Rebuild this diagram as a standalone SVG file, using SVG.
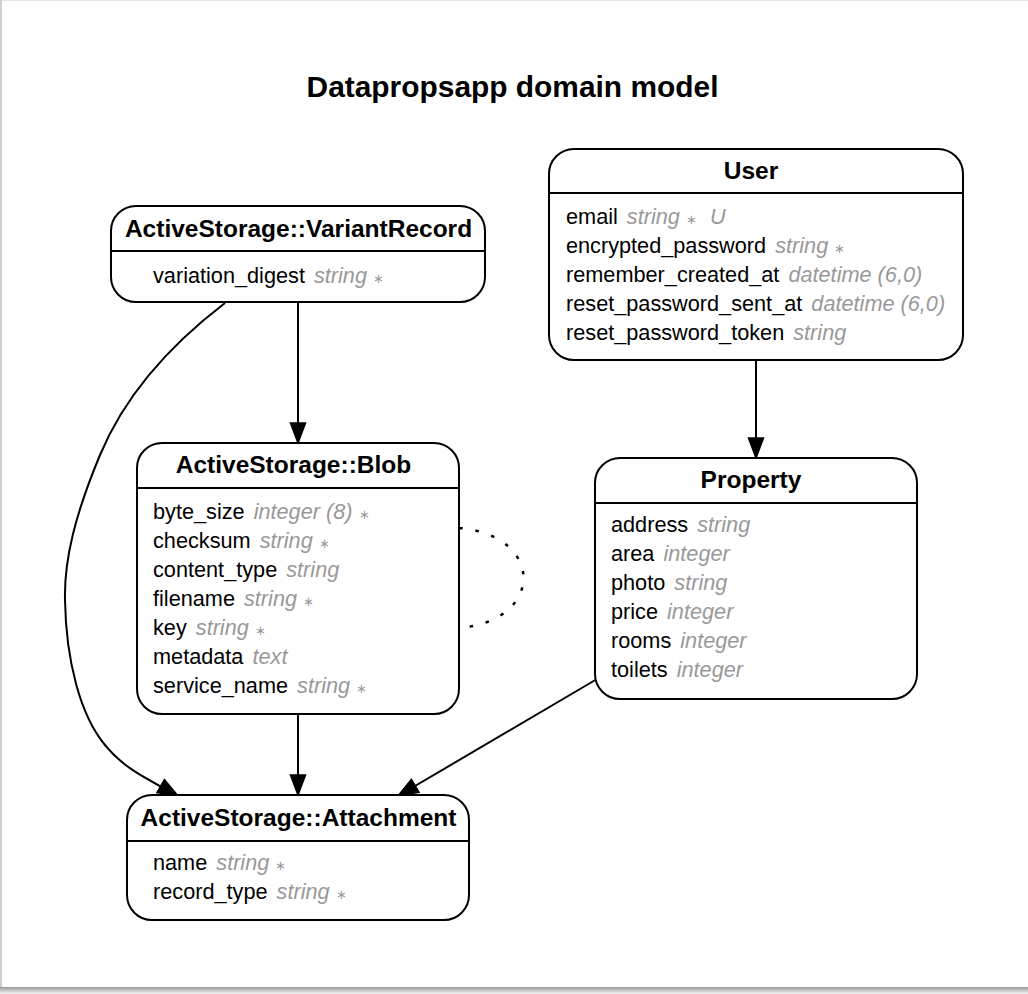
<svg xmlns="http://www.w3.org/2000/svg" width="1028" height="994" viewBox="0 0 1028 994">
<style>
.box{fill:#fff;stroke:#000;stroke-width:2}
.div{stroke:#000;stroke-width:2}
.hd{font-family:"Liberation Sans",Arial,sans-serif;font-weight:bold;font-size:24.5px;text-anchor:middle;fill:#000}
.at{font-family:"Liberation Sans",Arial,sans-serif;font-size:21.7px;fill:#000}
.t{font-style:italic;fill:#999}
.s{fill:#999;font-size:13px}
.e{fill:none;stroke:#000;stroke-width:2}
</style>
<defs>
<marker id="ah" markerUnits="userSpaceOnUse" markerWidth="24" markerHeight="20" refX="21" refY="9" orient="auto" viewBox="0 0 24 20">
<path d="M1,1.5 L21,9 L1,16.5 z" fill="#000" stroke="#000" stroke-width="1.5"/>
</marker>
<linearGradient id="sh" x1="0" y1="0" x2="0" y2="1">
<stop offset="0" stop-color="#9a9a9a"/>
<stop offset="1" stop-color="#f4f4f4"/>
</linearGradient>
</defs>
<rect x="0" y="0" width="1028" height="994" fill="#fff"/>
<g id="frame">
<rect x="0" y="987" width="1028" height="7" fill="url(#sh)"/>
<line x1="0" y1="0.5" x2="1028" y2="0.5" stroke="#e4e4e4" stroke-width="1"/>
<line x1="1" y1="0" x2="1" y2="987" stroke="#cfcfcf" stroke-width="2"/>
</g>
<text x="512.5" y="97" font-family="Liberation Sans,Arial,sans-serif" font-weight="bold" font-size="29.9" text-anchor="middle">Datapropsapp domain model</text>

<g id="edges">
<path class="e" d="M225,303 C170,345 125,395 100,455 C75,515 64,560 65,600 C66,660 80,715 105,745 C125,770 150,780 178,796" marker-end="url(#ah)"/>
<path class="e" d="M298,303 L298,443" marker-end="url(#ah)"/>
<path class="e" d="M298,714 L298,795" marker-end="url(#ah)"/>
<path class="e" d="M756,360 L756,458" marker-end="url(#ah)"/>
<path class="e" d="M597,679 L398,796" marker-end="url(#ah)"/>
<path d="M459,528 C545,535 545,621 459,628" fill="none" stroke="#000" stroke-width="2.5" stroke-dasharray="3.5 13"/>
</g>

<g id="variantrecord">
<rect class="box" x="111" y="206" width="374" height="96" rx="25"/>
<line class="div" x1="111" y1="251" x2="485" y2="251"/>
<text class="hd" x="298.5" y="237">ActiveStorage::VariantRecord</text>
<text class="at" x="153" y="283">variation_digest <tspan class="t" dx="3">string</tspan> <tspan class="s">∗</tspan></text>
</g>

<g id="user">
<rect class="box" x="549" y="149" width="414" height="211" rx="25"/>
<line class="div" x1="549" y1="193" x2="963" y2="193"/>
<text class="hd" x="751" y="179">User</text>
<text class="at" x="566" y="224">email <tspan class="t" dx="3">string</tspan> <tspan class="s">∗</tspan> <tspan class="t" dx="7">U</tspan></text>
<text class="at" x="566" y="253">encrypted_password <tspan class="t" dx="3">string</tspan> <tspan class="s">∗</tspan></text>
<text class="at" x="566" y="282">remember_created_at <tspan class="t" dx="3">datetime (6,0)</tspan></text>
<text class="at" x="566" y="311">reset_password_sent_at <tspan class="t" dx="3">datetime (6,0)</tspan></text>
<text class="at" x="566" y="340">reset_password_token <tspan class="t" dx="3">string</tspan></text>
</g>

<g id="blob">
<rect class="box" x="137" y="443" width="322" height="271" rx="25"/>
<line class="div" x1="137" y1="488" x2="459" y2="488"/>
<text class="hd" x="293.5" y="473">ActiveStorage::Blob</text>
<text class="at" x="153" y="519">byte_size <tspan class="t" dx="3">integer (8)</tspan> <tspan class="s">∗</tspan></text>
<text class="at" x="153" y="548">checksum <tspan class="t" dx="3">string</tspan> <tspan class="s">∗</tspan></text>
<text class="at" x="153" y="577">content_type <tspan class="t" dx="3">string</tspan></text>
<text class="at" x="153" y="606">filename <tspan class="t" dx="3">string</tspan> <tspan class="s">∗</tspan></text>
<text class="at" x="153" y="635">key <tspan class="t" dx="3">string</tspan> <tspan class="s">∗</tspan></text>
<text class="at" x="153" y="664">metadata <tspan class="t" dx="3">text</tspan></text>
<text class="at" x="153" y="693">service_name <tspan class="t" dx="3">string</tspan> <tspan class="s">∗</tspan></text>
</g>

<g id="property">
<rect class="box" x="595" y="458" width="322" height="241" rx="25"/>
<line class="div" x1="595" y1="503" x2="917" y2="503"/>
<text class="hd" x="751" y="488">Property</text>
<text class="at" x="611" y="532">address <tspan class="t" dx="3">string</tspan></text>
<text class="at" x="611" y="561">area <tspan class="t" dx="3">integer</tspan></text>
<text class="at" x="611" y="590">photo <tspan class="t" dx="3">string</tspan></text>
<text class="at" x="611" y="619">price <tspan class="t" dx="3">integer</tspan></text>
<text class="at" x="611" y="648">rooms <tspan class="t" dx="3">integer</tspan></text>
<text class="at" x="611" y="677">toilets <tspan class="t" dx="3">integer</tspan></text>
</g>

<g id="attachment">
<rect class="box" x="127" y="795" width="342" height="125" rx="25"/>
<line class="div" x1="127" y1="841" x2="469" y2="841"/>
<text class="hd" x="298.5" y="826">ActiveStorage::Attachment</text>
<text class="at" x="153" y="870">name <tspan class="t" dx="3">string</tspan> <tspan class="s">∗</tspan></text>
<text class="at" x="153" y="899">record_type <tspan class="t" dx="3">string</tspan> <tspan class="s">∗</tspan></text>
</g>
</svg>
